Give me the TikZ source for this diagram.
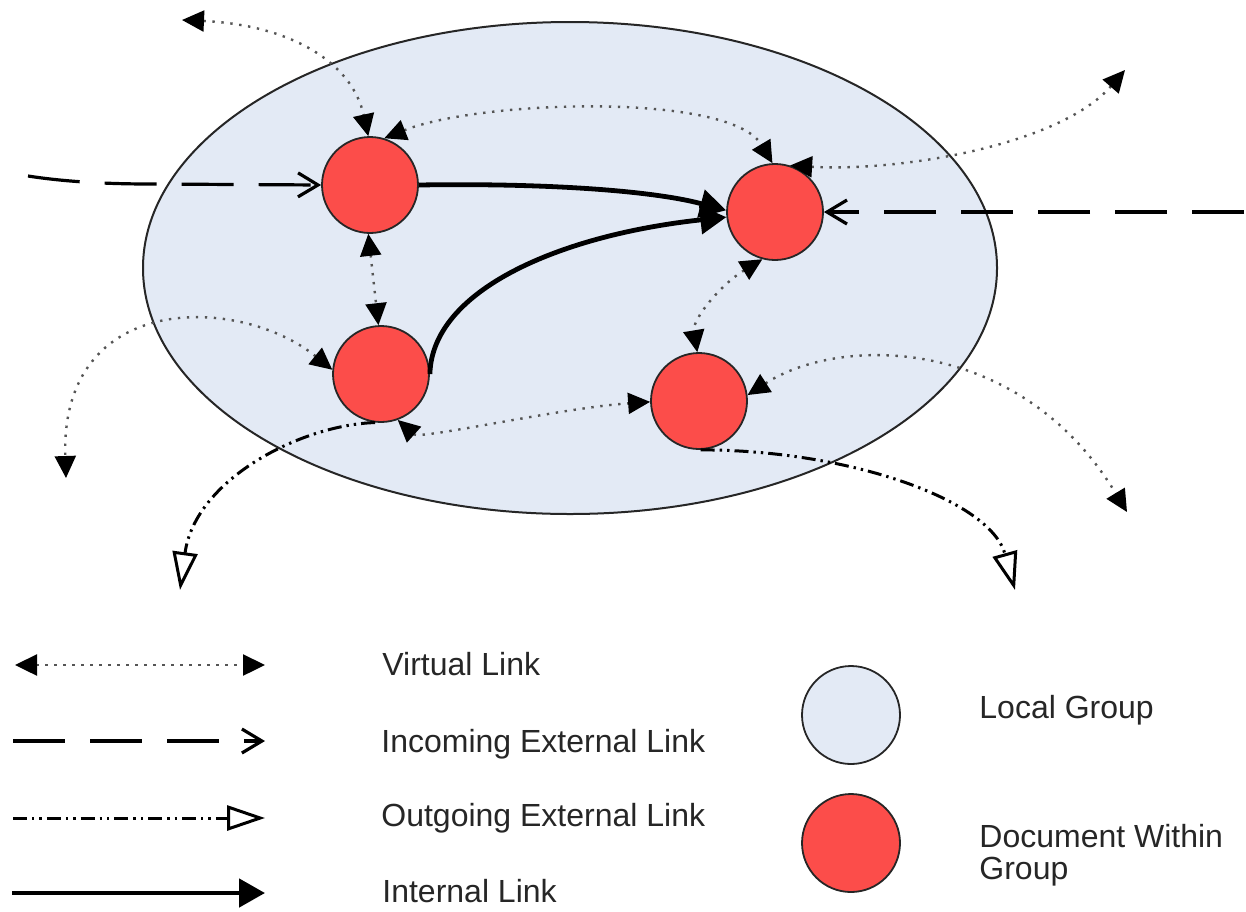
\documentclass[tikz,border=0pt]{standalone}
\usepackage{fontspec}
\setmainfont{Liberation Sans}
\usetikzlibrary{arrows.meta,shapes.geometric}

\definecolor{groupfill}{RGB}{227,234,245}
\definecolor{docfill}{RGB}{252,77,74}
\definecolor{dotgray}{RGB}{85,85,85}
\definecolor{labeltext}{RGB}{38,38,38}

\tikzset{
  vtip/.tip={Triangle[length=11pt,width=10.5pt,color=black]},
  inbarb/.tip={Straight Barb[length=10pt,width=12pt]},
  outtri/.tip={Triangle[open,length=19pt,width=12.5pt]},
  intip/.tip={Triangle[length=13pt,width=14pt]},
  groupshape/.style={ellipse,draw=black!85,line width=1pt,fill=groupfill,
    minimum width=427pt,minimum height=246pt,inner sep=0pt},
  doc/.style={circle,draw=black!85,line width=0.9pt,fill=docfill,
    minimum size=48pt,inner sep=0pt},
  legcircle/.style={circle,draw=black!85,line width=0.9pt,
    minimum size=49pt,inner sep=0pt},
  virtual/.style={draw=dotgray,line width=1.2pt,
    dash pattern=on 1.2pt off 3.3pt,arrows={vtip-vtip}},
  incoming/.style={draw=black,line width=1.6pt,
    dash pattern=on 26pt off 12.5pt,arrows={-inbarb}},
  outgoing/.style={draw=black,line width=1.5pt,
    dash pattern=on 7pt off 2.5pt on 1.2pt off 2.5pt on 1.2pt off 2.5pt,
    arrows={-outtri}},
  internal/.style={draw=black,line width=2.4pt,arrows={-intip}},
  legtext/.style={anchor=base west,inner sep=0pt,text=labeltext,
    font=\fontsize{16pt}{16pt}\selectfont},
}

\begin{document}
\begin{tikzpicture}[x=0.5pt,y=-0.5pt]
\useasboundingbox (0,0) rectangle (1246,911);

% local group and its documents
\node[groupshape] (G) at (570,268) {};
\node[doc] (A) at (370,185) {};
\node[doc] (B) at (775,212) {};
\node[doc] (C) at (381,374) {};
\node[doc] (D) at (699,401) {};

% free ends of the links leaving or entering the group
\coordinate (inL) at (28,176);
\coordinate (inR) at (1244,212);
\coordinate (vTL) at (182,20);
\coordinate (vTR) at (1125,70);
\coordinate (vBL) at (66,478);
\coordinate (vBR) at (1127,512);
\coordinate (oBL) at (180,590);
\coordinate (oBR) at (1015,590);

% incoming external links
\draw[incoming] (inL) .. controls (60,181) and (100,184) .. (150,184) -- (A.west);
\draw[incoming] (inR) -- (B.east);

% internal links
\draw[internal] (A.east) .. controls (540,183) and (650,190) .. (B.178);
\draw[internal] (C.east) .. controls (432,290) and (560,235) .. (B.186);

% virtual links
\draw[virtual] (vTL) .. controls (290,25) and (352,62) .. (A.92);
\draw[virtual] (A.73) .. controls (480,100) and (730,92) .. (B.93);
\draw[virtual] (B.72) .. controls (900,172) and (1060,145) .. (vTR);
\draw[virtual] (B.255) .. controls (720,285) and (692,320) .. (D.92);
\draw[virtual] (A.268) -- (C.93);
\draw[virtual] (C.175) .. controls (240,295) and (60,290) .. (vBL);
\draw[virtual] (C.290) .. controls (420,440) and (560,408) .. (D.181);
\draw[virtual] (D.7) .. controls (840,335) and (1020,335) .. (vBR);

% outgoing external links
\draw[outgoing] (C.263) .. controls (300,425) and (195,480) .. (oBL);
\draw[outgoing] (D.272) .. controls (850,450) and (990,500) .. (oBR);

% legend: link kinds
\coordinate (k1a) at (15,665);  \coordinate (k1b) at (265,665);
\coordinate (k2a) at (13,741);  \coordinate (k2b) at (265,741);
\coordinate (k3a) at (13,818);  \coordinate (k3b) at (265,818);
\coordinate (k4a) at (12,893);  \coordinate (k4b) at (265,893);
\draw[virtual] (k1a) -- (k1b);
\draw[incoming] (k2a) -- (k2b);
\draw[outgoing] (k3a) -- (k3b);
\draw[internal] (k4a) -- (k4b);

\node[legtext] (t1) at (382,675) {Virtual Link};
\node[legtext] (t2) at (381,752) {Incoming External Link};
\node[legtext] (t3) at (381,826) {Outgoing External Link};
\node[legtext] (t4) at (382,902) {Internal Link};

% legend: shapes
\node[legcircle,fill=groupfill] (kG) at (851,715) {};
\node[legcircle,fill=docfill] (kD) at (851,843) {};
\node[legtext] (t5) at (979,718) {Local Group};
\node[legtext,anchor=north west,align=left] (t6) at (979,824) {Document Within\\Group};
\end{tikzpicture}
\end{document}
